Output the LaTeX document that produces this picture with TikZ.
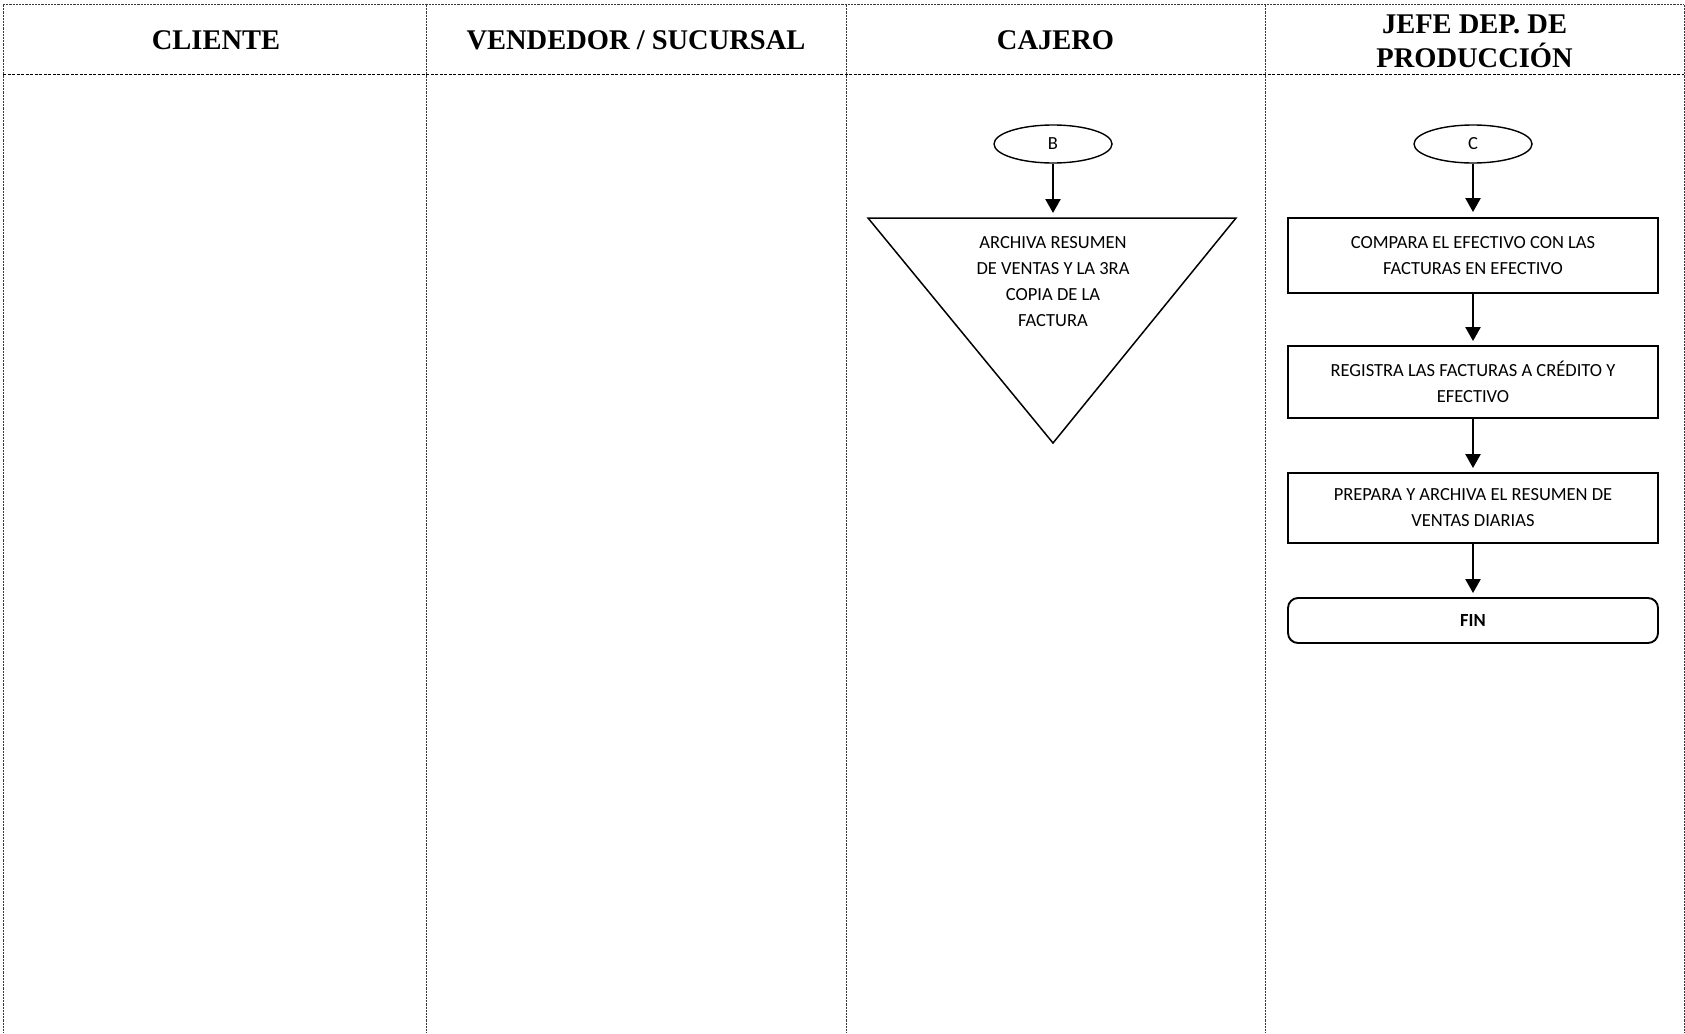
\documentclass[tikz,border=0pt]{standalone}
\usepackage{fontspec}
\setmainfont{Liberation Serif}
\newfontfamily\bodyfont{Carlito}
\usetikzlibrary{arrows.meta,shapes.geometric}

\begin{document}
\begin{tikzpicture}[x=1pt,y=-1pt,
  lanerule/.style={gray!45!black, line width=1pt, dash pattern=on 2.2pt off 1pt},
  headrule/.style={black, line width=0.9pt, dash pattern=on 3pt off 1.5pt},
  lanehead/.style={font=\fontsize{28.5}{34}\selectfont\bfseries, align=center, inner sep=0pt},
  bodytext/.style={font=\bodyfont\fontsize{18.5}{26}\selectfont, align=center, inner sep=0pt},
  procbox/.style={bodytext, draw, line width=1.9pt, minimum width=370pt},
  connector/.style={draw, ellipse, line width=1.4pt, minimum width=118pt, minimum height=38pt,
    inner sep=0pt, font=\bodyfont\fontsize{18.5}{22}\selectfont},
  flow/.style={line width=2.4pt, -{Triangle[length=14pt,width=15pt]}, shorten >=4pt},
]
\useasboundingbox (0,0) rectangle (1685,1033);

% swimlane grid
\draw[lanerule] (3,5) -- (1684,5);
\foreach \x in {3,426,846,1265,1684}
  \draw[lanerule] (\x,5) -- (\x,1033);
\draw[headrule] (3,74) -- (1684,74);

% lane titles
\node[lanehead] (hcliente) at (216,40) {CLIENTE};
\node[lanehead] (hvendedor) at (636,40) {VENDEDOR / SUCURSAL};
\node[lanehead] (hcajero) at (1055.5,40) {CAJERO};
\node[lanehead] (hjefe) at (1474.5,41) {JEFE DEP. DE\\PRODUCCIÓN};

% cashier lane
\node[connector] (b) at (1053,144) {B};
\coordinate (tl) at (868,218);
\coordinate (tr) at (1236,218);
\coordinate (tb) at (1053,443);
\coordinate (tt) at (1053,218);
\draw[line width=1.5pt, line join=miter] (tl) -- (tr) -- (tb) -- cycle;
\node[bodytext] (archiva) at (1053,282)
  {ARCHIVA RESUMEN\\DE VENTAS Y LA 3RA\\COPIA DE LA\\FACTURA};
\draw[flow, shorten >=5pt] (b) -- (tt);

% production head lane
\node[connector] (c) at (1473,144) {C};
\node[procbox, minimum height=75pt] (p1) at (1473,255.5)
  {COMPARA EL EFECTIVO CON LAS\\FACTURAS EN EFECTIVO};
\node[procbox, minimum height=72pt] (p2) at (1473,382)
  {REGISTRA LAS FACTURAS A CRÉDITO Y\\EFECTIVO};
\node[procbox, minimum height=70pt] (p3) at (1473,508)
  {PREPARA Y ARCHIVA EL RESUMEN DE\\VENTAS DIARIAS};
\node[procbox, rounded corners=10pt, minimum height=45pt,
  font=\bodyfont\bfseries\fontsize{18.5}{22}\selectfont] (fin) at (1473,620.5) {FIN};

\draw[flow, shorten >=5pt] (c) -- (p1);
\draw[flow] (p1) -- (p2);
\draw[flow] (p2) -- (p3);
\draw[flow] (p3) -- (fin);
\end{tikzpicture}
\end{document}
